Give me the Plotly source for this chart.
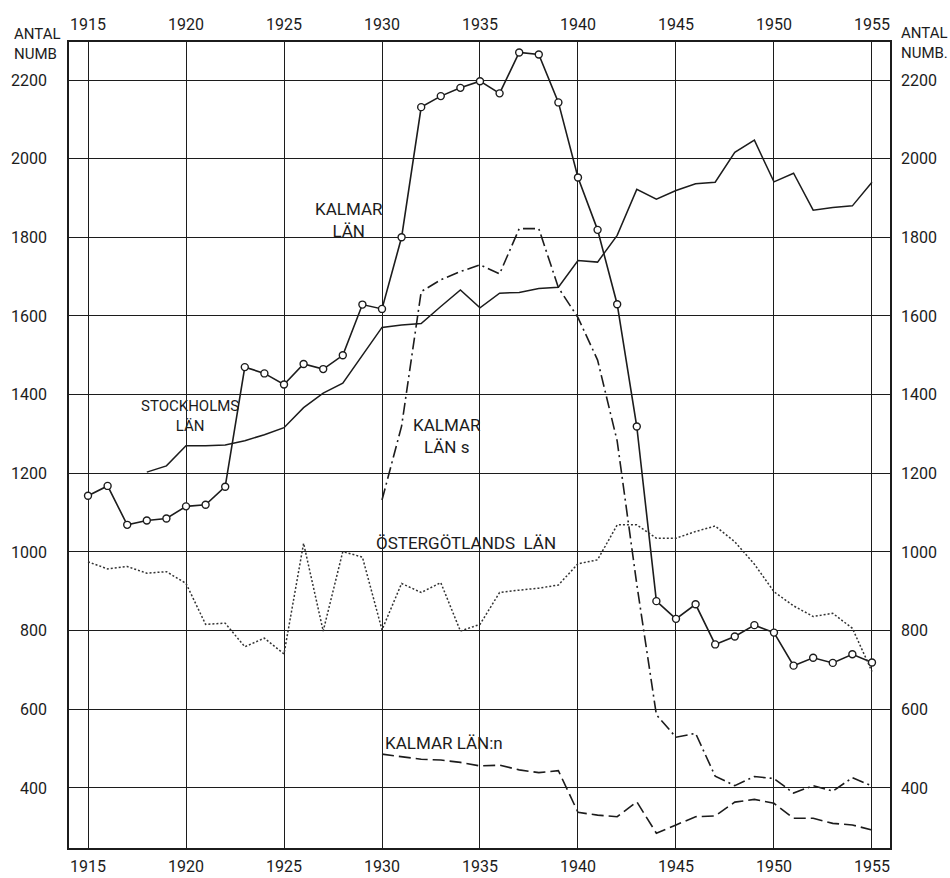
import plotly.graph_objects as go

# ---- data -------------------------------------------------------------
years_all = list(range(1915, 1956))
years_stockholm = list(range(1918, 1956))
years_kalmar_sn = list(range(1930, 1956))

kalmar_lan = [1143, 1168, 1069, 1080, 1085, 1116, 1120, 1166, 1470, 1454,
              1426, 1478, 1465, 1500, 1629, 1618, 1800, 2131, 2159, 2180,
              2197, 2166, 2270, 2265, 2143, 1952, 1819, 1630, 1319, 875,
              830, 867, 765, 785, 814, 795, 711, 731, 718, 740,
              719]

stockholms_lan = [1203, 1219, 1270, 1270, 1272, 1283, 1298, 1316, 1367, 1404,
                  1429, 1500, 1571, 1577, 1581, 1624, 1666, 1621, 1658, 1660,
                  1670, 1673, 1741, 1737, 1805, 1922, 1897, 1919, 1936, 1940,
                  2016, 2047, 1941, 1963, 1869, 1876, 1880, 1940]

kalmar_lan_s = [1132, 1320, 1662, 1692, 1713, 1730, 1707, 1822, 1822, 1672,
                1596, 1488, 1282, 918, 586, 529, 539, 430, 406, 429,
                424, 387, 406, 392, 426, 405]

kalmar_lan_n = [486, 480, 473, 471, 465, 456, 458, 446, 439, 444,
                338, 331, 327, 365, 285, 306, 327, 329, 364, 371,
                361, 323, 323, 310, 306, 293]

ostergotlands_lan = [975, 957, 963, 946, 950, 920, 816, 819, 759, 781,
                     741, 1022, 799, 1001, 987, 802, 920, 897, 922, 799,
                     816, 897, 903, 908, 916, 970, 980, 1069, 1069, 1035,
                     1035, 1052, 1066, 1026, 969, 899, 863, 836, 844, 806,
                     696]

x_ticks = list(range(1915, 1956, 5))
y_ticks = list(range(400, 2201, 200))

# ---- styling ----------------------------------------------------------
INK = "#1c1c1c"
FONT = "Roboto, Liberation Sans, sans-serif"
X_RANGE = [1914.03, 1955.92]
Y_RANGE = [247.4, 2296.6]

fig = go.Figure()

fig.add_trace(go.Scatter(
    x=years_all, y=kalmar_lan, mode="lines+markers",
    line=dict(color=INK, width=1.6),
    marker=dict(symbol="circle", size=7, color="white",
                line=dict(color=INK, width=1.4)),
    showlegend=False))

fig.add_trace(go.Scatter(
    x=years_stockholm, y=stockholms_lan, mode="lines",
    line=dict(color=INK, width=1.5), showlegend=False))

fig.add_trace(go.Scatter(
    x=years_kalmar_sn, y=kalmar_lan_s, mode="lines",
    line=dict(color=INK, width=1.6, dash="12px,4px,2px,4px"),
    showlegend=False))

fig.add_trace(go.Scatter(
    x=years_kalmar_sn, y=kalmar_lan_n, mode="lines",
    line=dict(color=INK, width=1.6, dash="12px,5px"),
    showlegend=False))

fig.add_trace(go.Scatter(
    x=years_all, y=ostergotlands_lan, mode="lines",
    line=dict(color="#333333", width=1.5, dash="2px,2px"),
    showlegend=False))

# carrier trace so the mirrored top/right axes get drawn
fig.add_trace(go.Scatter(
    x=years_all, y=ostergotlands_lan, xaxis="x2", yaxis="y2",
    mode="none", hoverinfo="skip", showlegend=False))

tick_font = dict(family=FONT, size=16, color=INK)

fig.update_layout(
    width=950, height=878,
    margin=dict(l=69, r=60, t=42, b=30),
    paper_bgcolor="white", plot_bgcolor="white",
    font=dict(family=FONT, color=INK),
    xaxis=dict(range=X_RANGE, tickvals=x_ticks, tickfont=tick_font,
               showgrid=True, gridcolor=INK, gridwidth=1,
               showline=True, linecolor=INK, linewidth=1.5, mirror=True,
               ticks="", ticklabelstandoff=3, zeroline=False,
               automargin=False),
    yaxis=dict(range=Y_RANGE, tickvals=y_ticks, tickfont=tick_font,
               showgrid=True, gridcolor=INK, gridwidth=1,
               showline=True, linecolor=INK, linewidth=1.5, mirror=True,
               ticks="", ticklabelstandoff=17, zeroline=False,
               automargin=False),
    xaxis2=dict(range=X_RANGE, tickvals=x_ticks, tickfont=tick_font,
                overlaying="x", side="top", anchor="y2",
                showgrid=False, showline=False, ticks="",
                ticklabelstandoff=8, zeroline=False, automargin=False),
    yaxis2=dict(range=Y_RANGE, tickvals=y_ticks, tickfont=tick_font,
                overlaying="y", side="right", anchor="x2",
                showgrid=False, showline=False, ticks="",
                ticklabelstandoff=10, zeroline=False, automargin=False),
)


def label(text, x, y, size=16):
    fig.add_annotation(x=x, y=y, xref="x", yref="y", text=text,
                       showarrow=False, align="center",
                       font=dict(family=FONT, size=size, color=INK),
                       xanchor="center", yanchor="middle")


label("KALMAR<br>LÄN", 1928.32, 1844, 17)
label("STOCKHOLMS<br>LÄN", 1920.2, 1346, 15)
label("KALMAR<br>LÄN s", 1933.32, 1295, 17)
label("ÖSTERGÖTLANDS  LÄN", 1934.29, 1022, 17)
label("KALMAR LÄN:n", 1933.16, 514, 17)

# axis unit captions in the top corners
corner_font = dict(family=FONT, size=15, color=INK)
fig.add_annotation(x=-0.0694, y=1.023, xref="paper", yref="paper",
                   text="ANTAL<br>NUMB", showarrow=False, font=corner_font,
                   align="left", xanchor="left", yanchor="top")
fig.add_annotation(x=1.0105, y=1.025, xref="paper", yref="paper",
                   text="ANTAL<br>NUMB.", showarrow=False, font=corner_font,
                   align="left", xanchor="left", yanchor="top")

fig.write_html("out.html")
